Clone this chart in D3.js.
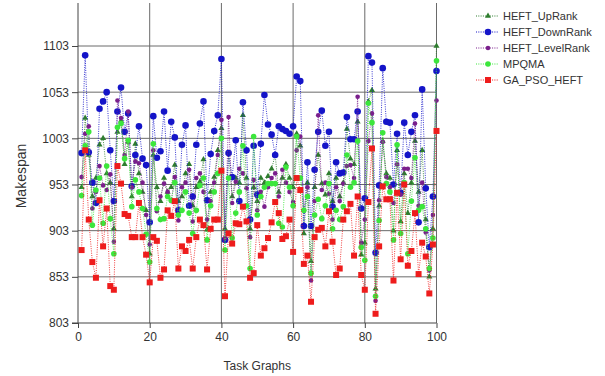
<!DOCTYPE html>
<html><head><meta charset="utf-8">
<script src="https://cdn.jsdelivr.net/npm/d3@7"></script>
<style>body{margin:0;background:#fff}svg{display:block}text{font-family:"Liberation Sans",Arial,sans-serif;fill:#333}</style>
</head><body><svg id="c" width="605" height="376"></svg>
<script>
const taskIds = d3.range(1, 101);
const yTicks = [803, 853, 903, 953, 1003, 1053, 1103];
const xTicks = [0, 20, 40, 60, 80, 100];
const seriesNames = ["HEFT_UpRank", "HEFT_DownRank", "HEFT_LevelRank", "MPQMA", "GA_PSO_HEFT"];

const upRank = [950,1025,985,940,960,996,1003,965,955,905,1010,1022,975,999,940,997,965,945,925,878,
985,950,935,960,945,950,974,935,940,965,975,930,950,956,980,904,945,961,990,1014,
905,987,940,960,955,1028,960,905,950,935,960,955,962,970,985,945,960,975,960,950,
1008,995,900,955,870,950,985,954,942,965,935,960,940,955,1013,981,975,1021,877,890,
1043,1055,840,930,1000,965,960,903,990,913,965,922,955,1000,945,990,915,853,905,1103];

const downRank = [987,1093,988,955,933,1035,1043,1053,990,935,1032,1058,1010,1030,951,985,1016,981,974,912,
1027,982,989,1032,968,1021,1004,925,996,1017,930,940,996,1019,1043,936,986,1011,1028,1089,
893,987,961,1001,935,1042,990,915,995,942,997,1050,1018,1007,985,1016,1013,1011,1008,1016,
1070,1065,908,977,908,969,1010,1033,995,1010,929,977,965,966,1026,1002,1002,1032,927,938,
1092,1085,879,952,1079,1021,1020,953,1008,944,1020,985,1010,1028,912,1056,949,885,940,1076];

const levelRank = [961,1008,1016,927,945,973,952,947,964,891,1044,1025,985,1032,950,978,976,955,920,888,
990,924,940,954,945,935,961,914,950,955,969,913,960,965,945,915,935,955,985,1023,
895,1026,933,956,970,965,949,896,958,925,945,929,950,960,965,940,969,955,945,934,
990,1005,925,950,849,935,1028,947,955,943,915,950,935,954,973,974,960,1048,890,915,
1000,1030,827,936,999,961,950,933,975,942,970,970,960,1019,930,955,901,860,920,1044];

const mpqma = [941,995,1010,909,947,960,911,973,916,878,1015,1019,981,1001,929,958,945,927,899,869,
997,927,915,916,940,936,955,920,925,945,922,900,925,952,960,893,930,945,965,1003,
882,960,895,922,945,995,930,862,1005,920,940,950,954,954,954,911,907,972,950,930,
1005,960,925,940,857,920,937,916,930,954,905,925,915,929,985,950,955,1000,885,871,
1041,1020,832,914,1009,954,945,893,996,900,955,878,935,982,925,929,905,862,895,1087];

const gaPso = [882,990,915,869,852,936,886,927,843,839,973,954,921,919,896,896,933,896,877,847,
896,892,852,861,925,919,935,862,886,881,893,862,896,915,909,861,905,915,915,968,
832,900,889,911,910,929,913,852,857,909,876,884,895,912,934,922,894,897,915,880,
960,947,867,876,826,896,904,906,886,924,891,855,862,915,924,932,876,940,855,839,
934,992,813,886,951,937,937,849,944,872,953,865,881,922,856,890,875,835,888,1011];

const colors = ["#2e7d2e", "#1414c8", "#7a1f8c", "#3ce63c", "#ee1c1c"];
const shapes = ["triangle", "bigcircle", "smallcircle", "circle", "square"];
const allData = [upRank, downRank, levelRank, mpqma, gaPso];

const svg = d3.select("#c");
const x = d3.scaleLinear().domain([0, 100]).range([78, 436.5]);
const y = d3.scaleLinear().domain([803, 1103]).range([323, 46]);
const topY = 3;

// grid
svg.append("g").selectAll("line").data(yTicks.slice(1)).join("line")
  .attr("x1", 78).attr("x2", x(100)).attr("y1", d => y(d)).attr("y2", d => y(d))
  .attr("stroke", "#6a6a6a").attr("stroke-width", 1);
svg.append("g").selectAll("line").data(xTicks.slice(1)).join("line")
  .attr("x1", d => x(d)).attr("x2", d => x(d)).attr("y1", topY).attr("y2", 323)
  .attr("stroke", "#6a6a6a").attr("stroke-width", 1);

// axes
const yAxis = d3.axisLeft(y).tickValues(yTicks).tickFormat(d3.format("d")).tickSize(6).tickPadding(3);
const gy = svg.append("g").attr("transform", "translate(78,0)").call(yAxis);
gy.select(".domain").remove();
gy.append("line").attr("x1", 0).attr("x2", 0).attr("y1", topY).attr("y2", 323).attr("stroke", "#444");
gy.selectAll(".tick line").attr("stroke", "#444");
gy.selectAll("text").attr("font-size", 12).attr("fill", "#333").style("font-family", "Liberation Sans, Arial, sans-serif");

const xAxis = d3.axisBottom(x).tickValues(xTicks).tickFormat(d3.format("d")).tickSize(5).tickPadding(4);
const gx = svg.append("g").attr("transform", "translate(0,323)").call(xAxis);
gx.select(".domain").remove();
gx.append("line").attr("x1", 72).attr("x2", x(100)).attr("y1", 0).attr("y2", 0).attr("stroke", "#444");
gx.selectAll(".tick line").attr("stroke", "#444");
gx.selectAll("text").attr("font-size", 12).attr("fill", "#333").style("font-family", "Liberation Sans, Arial, sans-serif");

svg.append("text").attr("x", x(50)).attr("y", 370).attr("text-anchor", "middle")
  .attr("font-size", 12).text("Task Graphs");
svg.append("text").attr("transform", "translate(26,176) rotate(-90)").attr("text-anchor", "middle")
  .attr("font-size", 14).text("Makespan");

function drawMarker(g, shape, color, cx, cy) {
  if (shape === "square") {
    g.append("rect").attr("x", cx - 3).attr("y", cy - 3).attr("width", 6).attr("height", 6).attr("fill", color);
  } else if (shape === "triangle") {
    g.append("path").attr("d", d3.symbol(d3.symbolTriangle, 16)()).attr("transform", `translate(${cx},${cy})`).attr("fill", color);
  } else {
    const r = shape === "bigcircle" ? 3.3 : shape === "smallcircle" ? 2.3 : 2.8;
    g.append("circle").attr("cx", cx).attr("cy", cy).attr("r", r).attr("fill", color);
  }
}

const line = d3.line().x((d, i) => x(taskIds[i])).y(d => y(d));
allData.forEach((vals, s) => {
  const g = svg.append("g");
  g.append("path").attr("d", line(vals)).attr("fill", "none").attr("stroke", colors[s])
    .attr("stroke-width", 1).attr("stroke-dasharray", "1,1.3").attr("opacity", 0.85);
  vals.forEach((v, i) => drawMarker(g, shapes[s], colors[s], x(taskIds[i]), y(v)));
});

// legend
const lg = svg.append("g");
seriesNames.forEach((name, s) => {
  const ly = 16 + s * 16;
  lg.append("line").attr("x1", 476).attr("x2", 499).attr("y1", ly).attr("y2", ly)
    .attr("stroke", colors[s]).attr("stroke-dasharray", "1,1.3");
  drawMarker(lg, shapes[s], colors[s], 488, ly);
  lg.append("text").attr("x", 503).attr("y", ly + 4).attr("font-size", 11).text(name);
});
</script></body></html>
